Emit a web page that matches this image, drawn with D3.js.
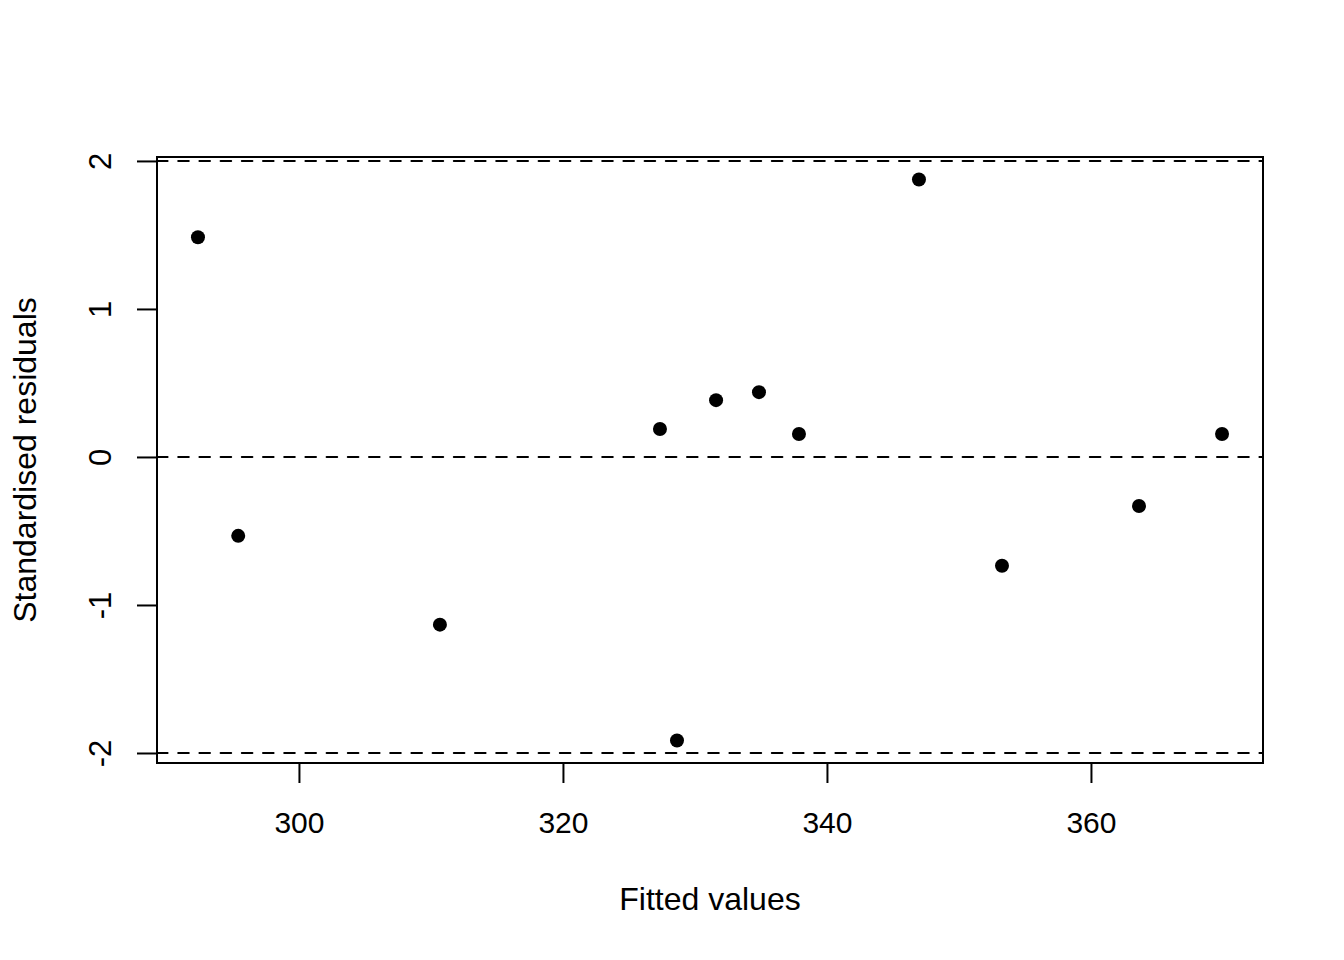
<!DOCTYPE html>
<html>
<head>
<meta charset="utf-8">
<script src="https://cdn.jsdelivr.net/npm/d3@7"></script>
<style>
  body { margin: 0; background: #fff; }
  text { font-family: "Liberation Sans", Arial, Helvetica, sans-serif; fill: #000; }
</style>
</head>
<body>
<div id="chart"></div>
<script>
// fitted values and standardised residuals
var fitted = [292.35, 295.4, 310.68, 327.35, 328.64, 331.6, 334.85, 337.88, 346.97, 353.26, 363.64, 369.93];
var residuals = [1.484, -0.533, -1.133, 0.189, -1.916, 0.384, 0.438, 0.155, 1.875, -0.735, -0.331, 0.155];
var xTicks = [300, 320, 340, 360];
var yTicks = [-2, -1, 0, 1, 2];
var refLines = [-2, 0, 2];

var width = 1344, height = 960;
var box = {left: 157, right: 1263, top: 157, bottom: 763};

var svg = d3.select("#chart").append("svg")
    .attr("width", width)
    .attr("height", height);

// R style 4% extension of the data range
function extend(ext) {
    var pad = (ext[1] - ext[0]) * 0.04;
    return [ext[0] - pad, ext[1] + pad];
}

var x = d3.scaleLinear()
    .domain(extend(d3.extent(fitted)))
    .range([box.left, box.right]);

var y = d3.scaleLinear()
    .domain(extend(d3.extent(residuals)))
    .range([box.bottom, box.top]);

// plain labels, hyphen minus like R
var plain = function(d) { return String(d); };

// x axis
var xAxis = svg.append("g")
    .attr("transform", "translate(0," + box.bottom + ")")
    .call(d3.axisBottom(x).tickValues(xTicks).tickFormat(plain).tickSize(20).tickSizeOuter(0));
xAxis.select(".domain").remove();
xAxis.selectAll("line").attr("stroke", "#000").attr("stroke-width", 2);
xAxis.selectAll("text")
    .attr("y", 70).attr("dy", null)
    .style("font-size", "30px");

// y axis (labels rotated like base R)
var yAxis = svg.append("g")
    .attr("transform", "translate(" + box.left + ",0)")
    .call(d3.axisLeft(y).tickValues(yTicks).tickFormat(plain).tickSize(20).tickSizeOuter(0));
yAxis.select(".domain").remove();
yAxis.selectAll("line").attr("stroke", "#000").attr("stroke-width", 2);
yAxis.selectAll("text")
    .attr("x", null).attr("dy", null)
    .attr("text-anchor", "middle")
    .attr("transform", "translate(-46,0) rotate(-90)")
    .style("font-size", "31px");

// dashed reference lines
svg.append("clipPath").attr("id", "plotclip")
    .append("rect")
    .attr("x", box.left).attr("y", box.top)
    .attr("width", box.right - box.left).attr("height", box.bottom - box.top);

svg.append("g")
    .attr("clip-path", "url(#plotclip)")
    .selectAll("line.ref")
    .data(refLines)
    .enter().append("line")
    .attr("class", "ref")
    .attr("x1", box.left).attr("x2", box.right)
    .attr("y1", function(d) { return y(d); })
    .attr("y2", function(d) { return y(d); })
    .attr("stroke", "#000")
    .attr("stroke-width", 2)
    .attr("stroke-linecap", "round")
    .attr("stroke-dasharray", "10.6,10.6");

// points
svg.append("g")
    .selectAll("circle")
    .data(fitted)
    .enter().append("circle")
    .attr("cx", function(d) { return x(d); })
    .attr("cy", function(d, i) { return y(residuals[i]); })
    .attr("r", 7)
    .attr("fill", "#000");

// plot frame
svg.append("rect")
    .attr("x", box.left).attr("y", box.top)
    .attr("width", box.right - box.left).attr("height", box.bottom - box.top)
    .attr("fill", "none")
    .attr("stroke", "#000")
    .attr("stroke-width", 2);

// axis titles
svg.append("text")
    .attr("x", (box.left + box.right) / 2)
    .attr("y", 910)
    .attr("text-anchor", "middle")
    .style("font-size", "32px")
    .text("Fitted values");

svg.append("text")
    .attr("transform", "translate(36," + (box.top + box.bottom) / 2 + ") rotate(-90)")
    .attr("text-anchor", "middle")
    .style("font-size", "32px")
    .text("Standardised residuals");
</script>
</body>
</html>
